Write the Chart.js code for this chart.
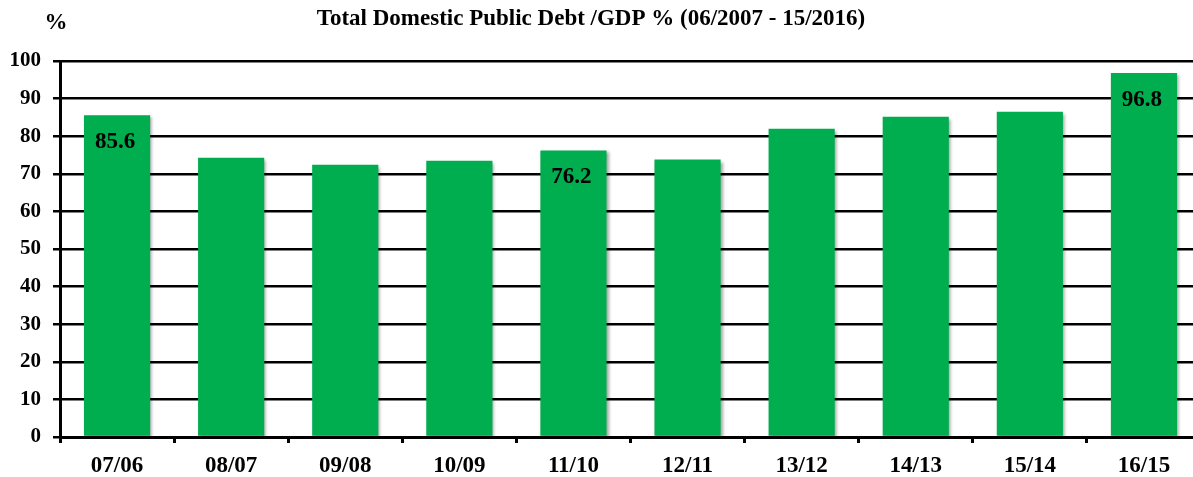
<!DOCTYPE html>
<html>
<head>
<meta charset="utf-8">
<script src="https://cdn.jsdelivr.net/npm/chart.js@4/dist/chart.umd.min.js"></script>
<style>
  html, body { margin: 0; padding: 0; background: #fff; overflow: hidden; }
  #wrap { width: 1193px; height: 477px; overflow: hidden; }
  canvas { display: block; }
</style>
</head>
<body>
<div id="wrap"><canvas id="c" width="1203" height="477"></canvas></div>
<script>
const categories = ["07/06", "08/07", "09/08", "10/09", "11/10", "12/11", "13/12", "14/13", "15/14", "16/15"];
const debtToGdp = [85.6, 74.3, 72.4, 73.5, 76.2, 73.8, 82.0, 85.2, 86.5, 96.8];
const labelledIndices = [0, 4, 9];
const titleText = "Total Domestic Public Debt /GDP % (06/2007 - 15/2016)";
const unitText = "%";

const FONT = "'Liberation Serif', 'Times New Roman', serif";

const extras = {
  id: 'extras',
  beforeDatasetDraw(chart) {
    const ctx = chart.ctx;
    ctx.save();
    ctx.shadowColor = 'rgba(0,0,0,0.35)';
    ctx.shadowOffsetX = 2;
    ctx.shadowOffsetY = 2;
    ctx.shadowBlur = 3;
  },
  afterDatasetDraw(chart) {
    chart.ctx.restore();
  },
  afterDraw(chart) {
    const ctx = chart.ctx;
    ctx.save();
    ctx.fillStyle = '#000';
    ctx.textAlign = 'center';
    ctx.textBaseline = 'alphabetic';
    ctx.font = "bold 23px " + FONT;
    ctx.fillText(titleText, 591, 25);
    ctx.font = "bold 23px " + FONT;
    ctx.fillText(unitText, 56, 29);
    const meta = chart.getDatasetMeta(0);
    ctx.textBaseline = 'middle';
    ctx.font = "bold 23px " + FONT;
    labelledIndices.forEach(i => {
      const bar = meta.data[i];
      ctx.fillText(debtToGdp[i].toFixed(1), bar.x - 2, bar.y + 27);
    });
    ctx.restore();
  }
};

new Chart(document.getElementById('c'), {
  type: 'bar',
  data: {
    labels: categories,
    datasets: [{
      data: debtToGdp,
      backgroundColor: '#00AE4F',
      borderWidth: 0,
      barPercentage: 0.58,
      categoryPercentage: 1.0
    }]
  },
  options: {
    responsive: false,
    animation: false,
    devicePixelRatio: 1,
    layout: { padding: { top: 61, right: 2, left: 0, bottom: 0 } },
    plugins: { legend: { display: false }, tooltip: { enabled: false }, title: { display: false } },
    scales: {
      x: {
        afterFit(scale) { scale.height = 40; },
        grid: { display: true, drawOnChartArea: false, drawTicks: true, tickLength: 6, tickWidth: 3, color: '#000', offset: true },
        border: { display: true, color: '#000', width: 3 },
        ticks: { color: '#000', font: { family: FONT, size: 23, weight: 'bold' }, padding: 9, maxRotation: 0 }
      },
      y: {
        min: 0, max: 100,
        afterFit(scale) { scale.width = 60; },
        grid: { display: true, drawOnChartArea: true, drawTicks: true, tickLength: 7, color: '#000', lineWidth: 2.5, tickWidth: 2.5 },
        border: { display: true, color: '#000', width: 3 },
        ticks: { stepSize: 10, color: '#000', font: { family: FONT, size: 21, weight: 'bold' }, padding: 12 }
      }
    }
  },
  plugins: [extras]
});
</script>
</body>
</html>
